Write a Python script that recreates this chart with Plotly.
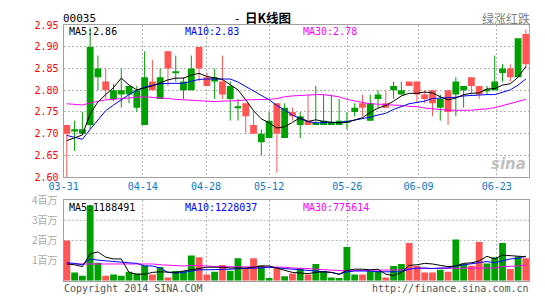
import plotly.graph_objects as go

# ---------------- data ----------------
dates = ["03-31","04-01","04-02","04-03","04-04","04-07","04-08","04-09","04-10","04-11",
         "04-14","04-15","04-16","04-17","04-22","04-23","04-24","04-25","04-28","04-29",
         "04-30","05-02","05-05","05-07","05-08","05-09","05-12","05-13","05-14","05-15",
         "05-16","05-19","05-20","05-21","05-22","05-23","05-26","05-27","05-28","05-29",
         "05-30","06-03","06-04","06-05","06-06","06-09","06-10","06-11","06-12","06-13",
         "06-16","06-17","06-18","06-19","06-20","06-23","06-24","06-25","06-26","06-27"]

opens = [2.72,2.705,2.70,2.72,2.83,2.82,2.78,2.79,2.79,2.76,
         2.72,2.82,2.78,2.89,2.84,2.80,2.80,2.90,2.83,2.82,
         2.82,2.78,2.76,2.77,2.72,2.68,2.69,2.77,2.69,2.75,
         2.72,2.73,2.72,2.72,2.72,2.72,2.725,2.75,2.77,2.73,
         2.78,2.77,2.80,2.79,2.82,2.82,2.79,2.80,2.76,2.80,
         2.79,2.80,2.83,2.81,2.80,2.80,2.84,2.85,2.83,2.93]
highs = [2.72,2.73,2.75,2.945,2.88,2.85,2.815,2.85,2.81,2.81,
         2.89,2.87,2.85,2.89,2.88,2.83,2.88,2.90,2.84,2.85,
         2.88,2.82,2.78,2.77,2.75,2.71,2.75,2.77,2.77,2.76,
         2.75,2.79,2.81,2.79,2.79,2.78,2.75,2.77,2.79,2.79,
         2.80,2.80,2.82,2.82,2.82,2.82,2.80,2.80,2.79,2.80,
         2.83,2.81,2.83,2.81,2.81,2.88,2.86,2.86,2.92,2.94]
lows = [2.60,2.66,2.70,2.71,2.80,2.78,2.775,2.76,2.77,2.75,
        2.72,2.80,2.78,2.81,2.82,2.78,2.80,2.82,2.81,2.78,
        2.78,2.73,2.73,2.70,2.70,2.65,2.69,2.61,2.69,2.73,
        2.69,2.72,2.72,2.72,2.72,2.72,2.71,2.74,2.74,2.73,
        2.76,2.76,2.78,2.79,2.81,2.77,2.77,2.74,2.73,2.72,
        2.74,2.76,2.79,2.78,2.79,2.80,2.82,2.82,2.83,2.85]
closes = [2.70,2.71,2.71,2.90,2.85,2.80,2.80,2.80,2.81,2.80,
          2.83,2.80,2.83,2.85,2.84,2.82,2.85,2.85,2.81,2.83,
          2.79,2.81,2.76,2.74,2.70,2.70,2.73,2.70,2.76,2.74,
          2.74,2.72,2.725,2.73,2.725,2.73,2.73,2.76,2.76,2.77,
          2.79,2.76,2.81,2.80,2.81,2.79,2.78,2.77,2.78,2.75,
          2.82,2.81,2.81,2.79,2.80,2.82,2.85,2.83,2.92,2.86]

ma5 = [2.684,2.690,2.697,2.746,2.773,2.790,2.806,2.828,2.812,2.801,
       2.806,2.810,2.817,2.824,2.828,2.828,2.835,2.839,2.832,2.828,
       2.825,2.813,2.801,2.778,2.753,2.734,2.725,2.713,2.716,2.726,
       2.737,2.728,2.732,2.728,2.726,2.725,2.726,2.732,2.737,2.749,
       2.759,2.765,2.775,2.787,2.793,2.793,2.796,2.794,2.785,2.778,
       2.782,2.790,2.793,2.794,2.803,2.804,2.812,2.815,2.830,2.855]
ma10 = [2.696,2.691,2.687,2.710,2.732,2.753,2.766,2.779,2.790,2.800,
        2.807,2.812,2.815,2.816,2.816,2.816,2.821,2.825,2.826,2.826,
        2.826,2.826,2.819,2.809,2.799,2.788,2.778,2.765,2.753,2.743,
        2.734,2.728,2.725,2.725,2.725,2.726,2.728,2.731,2.734,2.738,
        2.743,2.747,2.756,2.762,2.769,2.772,2.775,2.781,2.782,2.782,
        2.784,2.787,2.788,2.790,2.790,2.790,2.796,2.801,2.812,2.826]
ma30 = [2.769,2.768,2.766,2.771,2.775,2.778,2.779,2.781,2.782,2.784,
        2.785,2.784,2.782,2.781,2.779,2.778,2.776,2.775,2.774,2.774,
        2.775,2.775,2.776,2.778,2.778,2.779,2.779,2.781,2.785,2.787,
        2.788,2.790,2.790,2.790,2.788,2.785,2.779,2.775,2.772,2.769,
        2.768,2.768,2.766,2.765,2.763,2.762,2.759,2.757,2.756,2.754,
        2.754,2.754,2.754,2.756,2.757,2.760,2.765,2.769,2.775,2.779]

# volume in millions of shares
volume = [2.00,0.41,0.25,3.75,0.89,0.25,0.30,0.25,0.44,0.35,
          0.76,0.30,0.68,0.16,0.48,0.48,1.25,1.16,0.30,0.44,
          0.78,0.49,1.11,0.63,1.11,0.76,0.13,0.63,0.22,0.35,
          0.63,0.30,0.83,0.48,0.16,0.13,1.68,0.30,0.30,0.48,
          0.48,0.16,0.73,0.83,1.87,0.73,0.40,0.40,0.54,0.44,
          2.05,0.84,0.74,1.93,0.85,1.16,1.88,0.58,1.20,1.12]
vma5 = [0.83,0.79,0.70,1.33,1.43,1.17,1.08,1.08,0.41,0.32,
        0.32,0.41,0.44,0.41,0.41,0.48,0.54,0.63,0.67,0.67,
        0.67,0.63,0.62,0.63,0.67,0.73,0.73,0.63,0.54,0.41,
        0.38,0.35,0.41,0.44,0.41,0.32,0.51,0.57,0.57,0.54,
        0.57,0.32,0.25,0.41,0.76,0.79,0.86,0.83,0.76,0.70,
        0.73,0.86,0.89,0.98,1.21,1.08,1.27,1.24,1.21,1.19]
vma10 = [0.89,0.86,0.79,1.08,1.02,0.98,0.95,0.92,0.89,0.86,
         0.73,0.73,0.63,0.41,0.38,0.41,0.48,0.54,0.54,0.54,
         0.57,0.57,0.60,0.60,0.63,0.63,0.67,0.63,0.60,0.57,
         0.54,0.51,0.48,0.44,0.41,0.32,0.44,0.48,0.48,0.48,
         0.44,0.44,0.41,0.44,0.57,0.63,0.63,0.60,0.63,0.63,
         0.73,0.79,0.86,0.92,0.95,0.89,0.98,1.08,1.11,1.22]
vma30 = [0.83,0.83,0.83,0.83,0.83,0.83,0.83,0.83,0.83,0.83,
         0.83,0.83,0.79,0.76,0.73,0.73,0.76,0.76,0.73,0.70,
         0.70,0.70,0.70,0.70,0.70,0.68,0.67,0.67,0.67,0.63,
         0.63,0.60,0.57,0.54,0.51,0.48,0.48,0.51,0.51,0.51,
         0.51,0.54,0.54,0.54,0.60,0.60,0.60,0.60,0.60,0.60,
         0.60,0.63,0.63,0.63,0.63,0.63,0.70,0.70,0.73,0.78]

tick_labels = ["03-31","04-14","04-28","05-12","05-26","06-09","06-23"]
tick_pos = [-0.41, 9.75, 17.9, 26.0, 36.05, 45.2, 55.25]
price_ticks = [2.60,2.65,2.70,2.75,2.80,2.85,2.90,2.95]
vol_ticks = [1,2,3,4]
vol_tick_text = ["1百万","2百万","3百万","4百万"]
vol_grid = [2,3]

# ---------------- style ----------------
W, H = 545, 300
UP, DOWN = "#00a000", "#ff5555"
GRID = "#b4b4b4"
BORDER = "#a0a0a0"
MONO = "DejaVu Sans Mono"
CJK = "Noto Sans CJK SC"
XL, XR = 50, 529
def px(x): return x / W
def py(y): return 1 - y / H

n = len(closes)
xs = list(range(n))
up = [c >= o for o, c in zip(opens, closes)]
colors = [UP if u else DOWN for u in up]
minh = 0.0025
body_base = [min(o, c) for o, c in zip(opens, closes)]
body_len = [max(abs(c - o), minh) for o, c in zip(opens, closes)]

fig = go.Figure()

# wicks
for flag, col in [(True, UP), (False, DOWN)]:
    wx, wy = [], []
    for i in xs:
        if up[i] == flag:
            wx += [i, i, None]
            wy += [lows[i], highs[i], None]
    fig.add_trace(go.Scatter(x=wx, y=wy, mode="lines", line=dict(color=col, width=1),
                             hoverinfo="skip", xaxis="x", yaxis="y"))
# bodies
fig.add_trace(go.Bar(x=xs, y=body_len, base=body_base, width=0.875,
                     marker=dict(color=colors, line=dict(width=0)), xaxis="x", yaxis="y"))
# price MAs
for arr, col in [(ma30, "#ff00ff"), (ma10, "#0000ff"), (ma5, "#000000")]:
    fig.add_trace(go.Scatter(x=xs, y=arr, mode="lines", line=dict(color=col, width=1),
                             xaxis="x", yaxis="y"))

# volume
fig.add_trace(go.Bar(x=xs, y=volume, width=0.875,
                     marker=dict(color=colors, line=dict(width=0)), xaxis="x2", yaxis="y2"))
for arr, col in [(vma30, "#ff00ff"), (vma10, "#0000ff"), (vma5, "#000000")]:
    fig.add_trace(go.Scatter(x=xs, y=arr, mode="lines", line=dict(color=col, width=1),
                             xaxis="x2", yaxis="y2"))

xr = [-0.41, 59.46]
common_x = dict(range=xr, domain=[px(XL), px(XR)], tickvals=tick_pos, showgrid=True,
                gridcolor=GRID, griddash="2px,2px", gridwidth=1, zeroline=False,
                showline=True, mirror=True, linecolor=BORDER, linewidth=1, ticks="")
fig.update_layout(
    width=W, height=H, margin=dict(l=0, r=0, t=0, b=0),
    paper_bgcolor="white", plot_bgcolor="white", showlegend=False, barmode="overlay",
    xaxis=dict(**common_x, ticktext=tick_labels, anchor="y",
               tickfont=dict(family=MONO, size=10, color="#0a78d0")),
    yaxis=dict(range=[2.60, 2.95], domain=[py(176.7), py(18)], tickvals=price_ticks,
               tickformat=".2f", showgrid=True, gridcolor=GRID, griddash="2px,2px",
               zeroline=False, showline=True, mirror=True, linecolor=BORDER, linewidth=1,
               ticks="", ticklabelstandoff=2, anchor="x",
               tickfont=dict(family=MONO, size=10, color="#ff0000")),
    xaxis2=dict(**common_x, showticklabels=False, anchor="y2"),
    yaxis2=dict(range=[0, 4], domain=[py(285), py(201)], tickvals=vol_ticks,
                ticktext=vol_tick_text, showgrid=False, zeroline=False, showline=True,
                mirror=True, linecolor=BORDER, linewidth=1, ticks="", ticklabelstandoff=3,
                anchor="x2", tickfont=dict(family=CJK, size=10, color="#a8a8a8")),
)

for v in vol_grid:
    fig.add_shape(type="line", xref="x2 domain", yref="y2", x0=0, x1=1, y0=v, y1=v,
                  line=dict(color=GRID, width=1, dash="2px,2px"), layer="below")

def txt(x, y, s, color="#000", size=10, family=MONO, anchor="left", **kw):
    fig.add_annotation(x=px(x), y=py(y), xref="paper", yref="paper", text=s,
                       showarrow=False, xanchor=anchor, yanchor="middle",
                       font=dict(color=color, size=size, family=family), borderpad=0, **kw)

txt(48, 10.5, "00035", size=11)
txt(225, 10, "-  <b>日K线图</b>", size=12.5, family=CJK)
txt(531, 10.5, "绿涨红跌", color="#808080", size=12, family=CJK, anchor="right")

txt(54, 25, "MA5:2.86", color="#000000", size=10)
txt(174, 25, "MA10:2.83", color="#0000ff", size=10)
txt(295, 25, "MA30:2.78", color="#ff00ff", size=10)

txt(54, 208.5, "MA5:1188491", color="#000000", size=10)
txt(174, 208.5, "MA10:1228037", color="#0000ff", size=10)
txt(295, 208.5, "MA30:775614", color="#ff00ff", size=10)

txt(49, 293, "Copyright 2014 SINA.COM", color="#555555", size=10)
txt(530, 293, "http://finance.sina.com.cn", color="#555555", size=10, anchor="right")
txt(527, 163, "<b><i>sina</i></b>", color="#c0c0c0", size=15, family="DejaVu Sans", anchor="right")

fig.write_html("out.html")
